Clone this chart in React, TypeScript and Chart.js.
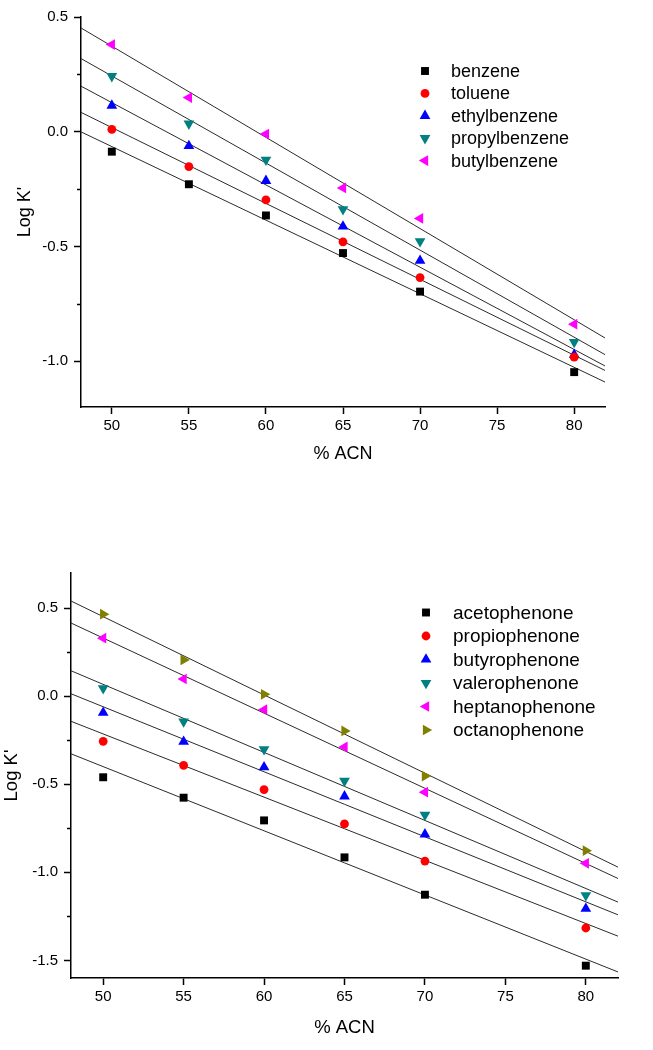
import React, { useEffect, useRef } from 'react';
import { Chart, registerables } from 'chart.js';
import { drawPoint } from 'chart.js/helpers';

Chart.register(...registerables);
Chart.defaults.font.family = '"Liberation Sans", Arial, sans-serif';
Chart.defaults.color = '#000';

// ---------- data ----------
const X_VALUES = [50, 55, 60, 65, 70, 80];
const X_TICKS = [50, 55, 60, 65, 70, 75, 80];
const X_MIN = 48;
const X_MAX = 82;

// top panel (alkylbenzenes)
const TOP_Y_TICKS = [0.5, 0.0, -0.5, -1.0];
const TOP_Y_MINOR = [0.25, -0.25, -0.75];
const TOP_Y_MIN = -1.2;
const TOP_Y_MAX = 0.5;
const benzene = [-0.087, -0.229, -0.365, -0.529, -0.697, -1.048];
const toluene = [0.010, -0.152, -0.297, -0.480, -0.636, -0.983];
const ethylbenzene = [0.114, -0.062, -0.214, -0.413, -0.562, -0.972];
const propylbenzene = [0.242, 0.035, -0.123, -0.338, -0.478, -0.917];
const butylbenzene = [0.380, 0.149, -0.010, -0.245, -0.378, -0.839];

// bottom panel (alkylphenones)
const BOT_Y_TICKS = [0.5, 0.0, -0.5, -1.0, -1.5];
const BOT_Y_MINOR = [0.25, -0.25, -0.75, -1.25];
const BOT_Y_MIN = -1.6;
const BOT_Y_MAX = 0.7;
const acetophenone = [-0.460, -0.576, -0.705, -0.915, -1.127, -1.530];
const propiophenone = [-0.256, -0.392, -0.530, -0.725, -0.936, -1.316];
const butyrophenone = [-0.093, -0.258, -0.403, -0.568, -0.784, -1.206];
const valerophenone = [0.045, -0.144, -0.301, -0.481, -0.674, -1.131];
const heptanophenone = [0.330, 0.098, -0.076, -0.288, -0.545, -0.949];
const octanophenone = [0.466, 0.206, 0.011, -0.197, -0.453, -0.877];

const X_TITLE = '% ACN';
const Y_TITLE = "Log K'";

// ---------- styles ----------
type Series = { label: string; values: number[]; color: string; style: string; rotation: number; radius: number };

const SQ = { style: 'rect', rotation: 0, radius: 5.6 };
const CI = { style: 'circle', rotation: 0, radius: 4.4 };
const UP = { style: 'triangle', rotation: 0, radius: 6.2 };
const DN = { style: 'triangle', rotation: 180, radius: 6.2 };
const LT = { style: 'triangle', rotation: 270, radius: 6.2 };
const RT = { style: 'triangle', rotation: 90, radius: 6.2 };

const TOP_SERIES: Series[] = [
  { label: 'benzene', values: benzene, color: '#000000', ...SQ },
  { label: 'toluene', values: toluene, color: '#ff0000', ...CI },
  { label: 'ethylbenzene', values: ethylbenzene, color: '#0000ff', ...UP },
  { label: 'propylbenzene', values: propylbenzene, color: '#008080', ...DN },
  { label: 'butylbenzene', values: butylbenzene, color: '#ff00ff', ...LT },
];

const BOT_SERIES: Series[] = [
  { label: 'acetophenone', values: acetophenone, color: '#000000', ...SQ },
  { label: 'propiophenone', values: propiophenone, color: '#ff0000', ...CI },
  { label: 'butyrophenone', values: butyrophenone, color: '#0000ff', ...UP },
  { label: 'valerophenone', values: valerophenone, color: '#008080', ...DN },
  { label: 'heptanophenone', values: heptanophenone, color: '#ff00ff', ...LT },
  { label: 'octanophenone', values: octanophenone, color: '#808000', ...RT },
];

function linearFit(xs: number[], ys: number[]) {
  const n = xs.length;
  const mx = xs.reduce((a, b) => a + b, 0) / n;
  const my = ys.reduce((a, b) => a + b, 0) / n;
  let sxy = 0;
  let sxx = 0;
  for (let i = 0; i < n; i++) {
    sxy += (xs[i] - mx) * (ys[i] - my);
    sxx += (xs[i] - mx) * (xs[i] - mx);
  }
  const slope = sxy / sxx;
  return { slope, intercept: my - slope * mx };
}

const extrasPlugin = {
  id: 'extras',
  afterDatasetsDraw(chart: any, _args: any, opts: any) {
    const ctx = chart.ctx;
    const yScale = chart.scales.y;
    const area = chart.chartArea;
    ctx.save();
    // minor ticks on y axis
    ctx.strokeStyle = '#000';
    ctx.lineWidth = 1.5;
    for (const v of opts.minor || []) {
      const py = Math.round(yScale.getPixelForValue(v)) + 0.5;
      ctx.beginPath();
      ctx.moveTo(area.left - opts.minorLen, py);
      ctx.lineTo(area.left, py);
      ctx.stroke();
    }
    // legend
    const L = opts.legend;
    ctx.font = `${L.fontSize}px "Liberation Sans", Arial, sans-serif`;
    ctx.textBaseline = 'middle';
    ctx.textAlign = 'left';
    (opts.series as Series[]).forEach((s, i) => {
      const y = L.y + i * L.dy;
      ctx.fillStyle = s.color;
      drawPoint(ctx, { pointStyle: s.style, rotation: s.rotation, radius: s.radius, borderWidth: 0 } as any, L.markerX, y);
      ctx.fillStyle = '#000';
      ctx.fillText(s.label, L.textX, y + 1);
    });
    ctx.restore();
  },
};

type PanelProps = {
  width: number;
  height: number;
  series: Series[];
  yMin: number;
  yMax: number;
  yTicks: number[];
  yMinor: number[];
  padTop: number;
  padRight: number;
  yAxisWidth: number;
  xAxisHeight: number;
  xTitlePad: number;
  yTitlePad: number;
  titleSize: number;
  legend: { markerX: number; textX: number; y: number; dy: number; fontSize: number };
};

function Panel(p: PanelProps) {
  const ref = useRef<HTMLCanvasElement | null>(null);
  useEffect(() => {
    if (!ref.current) return;
    const scatterSets = p.series.map((s) => ({
      type: 'scatter' as const,
      label: s.label,
      data: X_VALUES.map((x, i) => ({ x, y: s.values[i] })),
      backgroundColor: s.color,
      borderColor: s.color,
      pointStyle: s.style,
      rotation: s.rotation,
      pointRadius: s.radius,
      pointBorderWidth: 0,
      showLine: false,
    }));
    const fitSets = p.series.map((s) => {
      const f = linearFit(X_VALUES, s.values);
      return {
        type: 'line' as const,
        label: s.label + ' fit',
        data: [X_MIN, X_MAX].map((x) => ({ x, y: f.intercept + f.slope * x })),
        borderColor: '#2b2b2b',
        borderWidth: 1,
        pointRadius: 0,
        fill: false,
        tension: 0,
      };
    });
    const chart = new Chart(ref.current, {
      type: 'scatter',
      data: { datasets: [...scatterSets, ...fitSets] as any },
      plugins: [extrasPlugin as any],
      options: {
        animation: false,
        responsive: false,
        devicePixelRatio: 1,
        events: [],
        layout: { padding: { top: p.padTop, right: p.padRight, left: 0, bottom: 0 } },
        plugins: {
          legend: { display: false },
          tooltip: { enabled: false },
          extras: { minor: p.yMinor, minorLen: 4, series: p.series, legend: p.legend },
        } as any,
        scales: {
          x: {
            type: 'linear',
            min: X_MIN,
            max: X_MAX,
            afterBuildTicks: (scale: any) => {
              scale.ticks = X_TICKS.map((v) => ({ value: v }));
            },
            afterFit: (scale: any) => {
              scale.height = p.xAxisHeight;
            },
            grid: { drawOnChartArea: false, drawTicks: true, tickLength: 7, tickWidth: 1.5, tickColor: '#000' },
            border: { display: true, color: '#000', width: 1.5 },
            ticks: { font: { size: 15 }, color: '#000', padding: 3, maxRotation: 0, callback: (v: any) => String(v) },
            title: { display: true, text: X_TITLE, font: { size: p.titleSize }, color: '#000', padding: { top: 0, bottom: p.xTitlePad } },
          },
          y: {
            type: 'linear',
            min: p.yMin,
            max: p.yMax,
            afterBuildTicks: (scale: any) => {
              scale.ticks = p.yTicks.map((v) => ({ value: v }));
            },
            afterFit: (scale: any) => {
              scale.width = p.yAxisWidth;
            },
            grid: { drawOnChartArea: false, drawTicks: true, tickLength: 7, tickWidth: 1.5, tickColor: '#000' },
            border: { display: true, color: '#000', width: 1.5 },
            ticks: { font: { size: 15 }, color: '#000', padding: 6, callback: (v: any) => Number(v).toFixed(1) },
            title: { display: true, text: Y_TITLE, font: { size: p.titleSize }, color: '#000', padding: { top: p.yTitlePad, bottom: 0 } },
          },
        },
      } as any,
    });
    return () => chart.destroy();
  }, []);
  return <canvas ref={ref} width={p.width} height={p.height} style={{ display: 'block', width: p.width, height: p.height }} />;
}

export default function App() {
  return (
    <div style={{ position: 'absolute', left: 0, top: 0, width: 653, height: 1050, background: '#fff' }}>
      <div style={{ position: 'absolute', left: 0, top: 0 }}>
        <Panel
          width={653}
          height={500}
          series={TOP_SERIES}
          yMin={TOP_Y_MIN}
          yMax={TOP_Y_MAX}
          yTicks={TOP_Y_TICKS}
          yMinor={TOP_Y_MINOR}
          padTop={17}
          padRight={48}
          yAxisWidth={81}
          xAxisHeight={93}
          xTitlePad={35}
          yTitlePad={14}
          titleSize={18}
          legend={{ markerX: 425, textX: 451, y: 71, dy: 22.4, fontSize: 18 }}
        />
      </div>
      <div style={{ position: 'absolute', left: 0, top: 520 }}>
        <Panel
          width={653}
          height={530}
          series={BOT_SERIES}
          yMin={BOT_Y_MIN}
          yMax={BOT_Y_MAX}
          yTicks={BOT_Y_TICKS}
          yMinor={BOT_Y_MINOR}
          padTop={53}
          padRight={35}
          yAxisWidth={71}
          xAxisHeight={72}
          xTitlePad={11}
          yTitlePad={1}
          titleSize={18.5}
          legend={{ markerX: 426, textX: 453, y: 92.5, dy: 23.5, fontSize: 19 }}
        />
      </div>
    </div>
  );
}
